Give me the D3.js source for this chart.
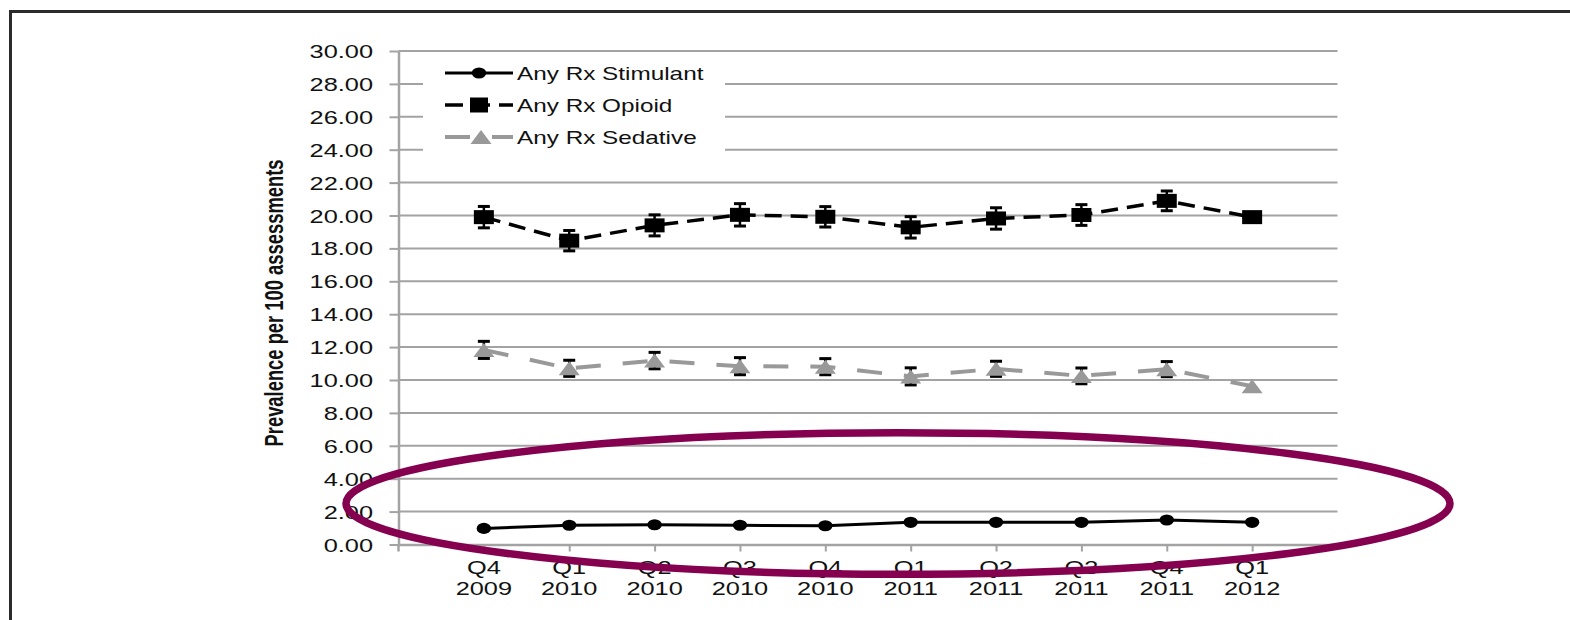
<!DOCTYPE html>
<html>
<head>
<meta charset="utf-8">
<script src="https://cdn.jsdelivr.net/npm/d3@7"></script>
<style>
html,body{margin:0;padding:0;background:#fff;}
svg{display:block;}
text{font-family:"Liberation Sans",Arial,Helvetica,sans-serif;fill:#111;}
</style>
</head>
<body>
<svg id="chart" width="1570" height="620"></svg>
<script>
// ---- data ----
const categories = ["Q4 2009","Q1 2010","Q2 2010","Q3 2010","Q4 2010","Q1 2011","Q2 2011","Q3 2011","Q4 2011","Q1 2012"];
const quarterLabels = ["Q4","Q1","Q2","Q3","Q4","Q1","Q2","Q3","Q4","Q1"];
const yearLabels = ["2009","2010","2010","2010","2010","2011","2011","2011","2011","2012"];
const stimulant = [0.98,1.17,1.20,1.17,1.14,1.35,1.35,1.35,1.49,1.35];
const opioid = [19.90,18.47,19.40,20.04,19.92,19.28,19.82,20.03,20.89,19.90];
const opioidErr = [0.65,0.62,0.64,0.68,0.62,0.65,0.65,0.63,0.60,null];
const sedative = [11.83,10.71,11.18,10.84,10.81,10.22,10.68,10.25,10.66,9.62];
const sedativeErr = [0.52,0.49,0.50,0.52,0.49,0.52,0.46,0.48,0.46,null];
const yTicks = [0,2,4,6,8,10,12,14,16,18,20,22,24,26,28,30];
const seriesNames = ["Any Rx Stimulant","Any Rx Opioid","Any Rx Sedative"];
const yTitle = "Prevalence per 100 assessments";

// ---- layout ----
const svg = d3.select("#chart");
const plotL = 398.5, plotR = 1337.5, plotT = 51, plotB = 544.5;
const SX = 1.45; // horizontal stretch of numeric labels
const x = d3.scalePoint().domain(categories).range([plotL, plotR]).padding(1);
const y = d3.scaleLinear().domain([0, 30]).range([plotB, plotT]);
const gridCol = "#a3a3a3";
const sedCol = "#999999";

// frame
svg.append("path").attr("d", `M10.5,620 L10.5,11.5 L1570,11.5`)
  .attr("fill","none").attr("stroke","#2a2a2a").attr("stroke-width",3);

// gridlines
svg.append("g").selectAll("line").data(yTicks.filter(d => d > 0)).join("line")
  .attr("x1", plotL).attr("x2", plotR)
  .attr("y1", d => y(d)).attr("y2", d => y(d))
  .attr("stroke", gridCol).attr("stroke-width", 2);

// y axis
const yAxis = svg.append("g").attr("transform", `translate(${plotL},0)`)
  .call(d3.axisLeft(y).tickValues(yTicks).tickSize(9).tickSizeOuter(0).tickFormat(d => d.toFixed(2)));
yAxis.select(".domain").attr("stroke", gridCol).attr("stroke-width", 2.5);
yAxis.selectAll(".tick line").attr("stroke", gridCol).attr("stroke-width", 2);
yAxis.selectAll(".tick text")
  .attr("x", 0).attr("dy", null).attr("y", 0)
  .attr("text-anchor","end")
  .attr("transform", "translate(-25.5,6.5) scale(" + SX + ",1)")
  .style("font-size","17.5px").style("font-family",'"Liberation Sans",Arial,sans-serif').attr("fill","#111");
// extension of the vertical axis below zero
svg.append("line").attr("x1", plotL).attr("x2", plotL).attr("y1", plotB).attr("y2", plotB + 7)
  .attr("stroke", gridCol).attr("stroke-width", 2.5);

// x axis
const xAxis = svg.append("g").attr("transform", `translate(0,${plotB})`)
  .call(d3.axisBottom(x).tickSize(7).tickSizeOuter(0).tickFormat(""));
xAxis.select(".domain").attr("stroke", gridCol).attr("stroke-width", 2.5);
xAxis.selectAll(".tick line").attr("stroke", gridCol).attr("stroke-width", 2);
const xl = svg.append("g");
categories.forEach((c, i) => {
  xl.append("text").attr("text-anchor","middle")
    .attr("transform", `translate(${x(c)},${573.5}) scale(${SX},1)`)
    .style("font-size","17.5px").text(quarterLabels[i]);
  xl.append("text").attr("text-anchor","middle")
    .attr("transform", `translate(${x(c)},${595}) scale(${SX},1)`)
    .style("font-size","17.5px").text(yearLabels[i]);
});

// y title
svg.append("text")
  .attr("transform", `translate(283,303) scale(1.4,1) rotate(-90)`)
  .attr("text-anchor","middle")
  .attr("textLength", 287).attr("lengthAdjust","spacingAndGlyphs")
  .style("font-size","18.4px").style("font-weight","bold")
  .text(yTitle);

// ---- series ----
const line = d3.line().x((d, i) => x(categories[i])).y(d => y(d));

svg.append("path").datum(sedative).attr("d", line)
  .attr("fill","none").attr("stroke", sedCol).attr("stroke-width", 4)
  .attr("stroke-dasharray","25,22");
svg.append("path").datum(opioid).attr("d", line)
  .attr("fill","none").attr("stroke", "#000").attr("stroke-width", 3.5)
  .attr("stroke-dasharray","17,9");
svg.append("path").datum(stimulant).attr("d", line)
  .attr("fill","none").attr("stroke", "#000").attr("stroke-width", 3);

// error bars
function errorBars(vals, errs) {
  const g = svg.append("g");
  vals.forEach((v, i) => {
    const e = errs[i];
    if (e == null) return;
    const cx = x(categories[i]);
    g.append("line").attr("x1", cx).attr("x2", cx).attr("y1", y(v + e)).attr("y2", y(v - e))
      .attr("stroke","#000").attr("stroke-width", 2.5);
    [v + e, v - e].forEach(w => {
      g.append("line").attr("x1", cx - 6).attr("x2", cx + 6).attr("y1", y(w)).attr("y2", y(w))
        .attr("stroke","#000").attr("stroke-width", 3);
    });
  });
}
errorBars(opioid, opioidErr);
errorBars(sedative, sedativeErr);

// markers
const triPath = (cx, cy) => `M${cx},${cy - 7} L${cx + 10.5},${cy + 7} L${cx - 10.5},${cy + 7} Z`;
svg.append("g").selectAll("path").data(sedative).join("path")
  .attr("d", (d, i) => triPath(x(categories[i]), y(d))).attr("fill", sedCol);
svg.append("g").selectAll("rect").data(opioid).join("rect")
  .attr("x", (d, i) => x(categories[i]) - 10).attr("y", d => y(d) - 7)
  .attr("width", 20).attr("height", 14).attr("fill", "#000");
svg.append("g").selectAll("ellipse").data(stimulant).join("ellipse")
  .attr("cx", (d, i) => x(categories[i])).attr("cy", d => y(d))
  .attr("rx", 7.2).attr("ry", 5.6).attr("fill", "#000");

// ---- legend ----
const lg = svg.append("g");
lg.append("rect").attr("x", 423).attr("y", 56).attr("width", 302).attr("height", 102).attr("fill", "#fff");
const rowsY = [73, 105, 137];
const lx0 = 445, lx1 = 513, mx = 479;
lg.append("line").attr("x1", lx0).attr("x2", lx1).attr("y1", rowsY[0]).attr("y2", rowsY[0])
  .attr("stroke","#000").attr("stroke-width", 3);
lg.append("ellipse").attr("cx", mx).attr("cy", rowsY[0]).attr("rx", 7.2).attr("ry", 5.6).attr("fill","#000");
lg.append("line").attr("x1", lx0).attr("x2", lx1).attr("y1", rowsY[1]).attr("y2", rowsY[1])
  .attr("stroke","#000").attr("stroke-width", 3.5).attr("stroke-dasharray","18,9");
lg.append("rect").attr("x", mx - 9).attr("y", rowsY[1] - 7.5).attr("width", 18).attr("height", 15).attr("fill","#000");
lg.append("line").attr("x1", lx0).attr("x2", lx1).attr("y1", rowsY[2]).attr("y2", rowsY[2])
  .attr("stroke", sedCol).attr("stroke-width", 4).attr("stroke-dasharray","25,22");
lg.append("path").attr("d", triPath(mx + 2, rowsY[2])).attr("fill", sedCol);
seriesNames.forEach((n, i) => {
  lg.append("text").attr("transform", `translate(517,${rowsY[i] + 6.5}) scale(1.39,1)`)
    .style("font-size","17.5px").text(n);
});

// ---- highlight ellipse ----
svg.append("ellipse").attr("cx", 898).attr("cy", 503.5).attr("rx", 552).attr("ry", 70.7)
  .attr("fill","none").attr("stroke","#85004f").attr("stroke-width", 7.5);
</script>
</body>
</html>
